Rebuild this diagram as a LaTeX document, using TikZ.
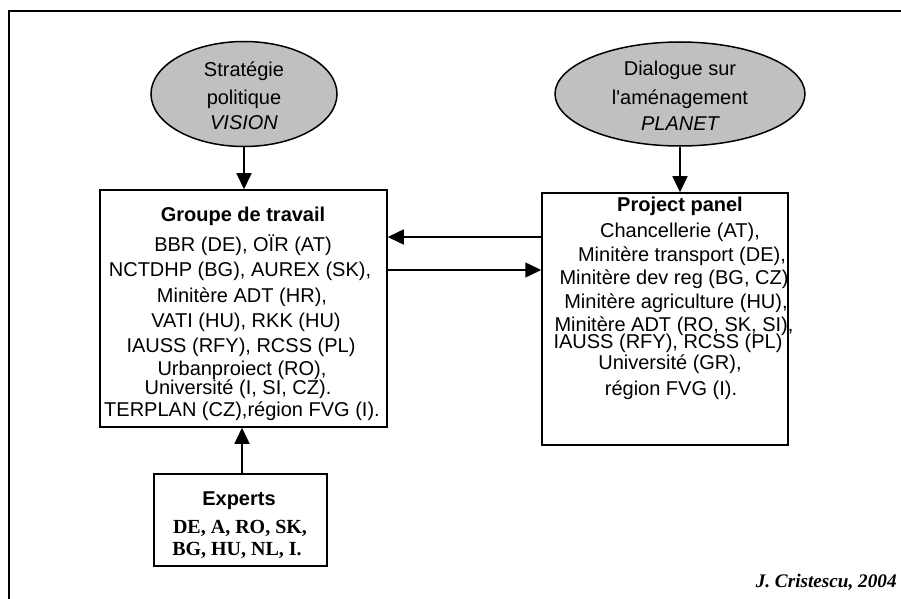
\documentclass[tikz,border=0pt]{standalone}
\usepackage{fontspec}
\setmainfont{Liberation Serif}
\setsansfont{Liberation Sans}
\usetikzlibrary{shapes.geometric,arrows.meta,fit}
\begin{document}
\begin{tikzpicture}[x=0.5pt,y=-0.5pt,
  font=\fontsize{10}{12}\selectfont,
  boxnode/.style={draw, line width=0.75pt, inner sep=0pt},
  bubble/.style={draw, ellipse, line width=0.75pt, fill=bubblegray, inner sep=0pt},
  txt/.style={font=\fontsize{10}{12}\selectfont\sffamily, inner sep=0pt, anchor=base},
  ttl/.style={txt, font=\fontsize{10}{12}\selectfont\sffamily\bfseries},
  serifb/.style={txt, font=\fontsize{10}{12}\selectfont\rmfamily\bfseries},
  arr/.style={line width=0.75pt, -{Triangle[length=8pt,width=7.5pt]}}
]
\definecolor{bubblegray}{RGB}{192,192,192}
\useasboundingbox (0,0) rectangle (901,599);

% outer frame
\coordinate (fa) at (9,599);
\coordinate (fb) at (9,11);
\coordinate (fc) at (901,11);
\draw[line width=1pt] (fa) -- (fb) -- (fc);

% ellipses
\node[bubble, minimum width=93pt, minimum height=52.5pt] (e1) at (244,94) {};
\node[bubble, minimum width=125pt, minimum height=52pt] (e2) at (680,94) {};
\node[txt] (e1a) at (244,77) {Stratégie};
\node[txt] (e1b) at (244,105) {politique};
\node[txt] (e1c) at (244,130) {\itshape VISION};
\node[txt] (e2a) at (680,76) {Dialogue sur};
\node[txt] (e2b) at (680,105) {l\textquotesingle aménagement};
\node[txt] (e2c) at (680,131) {\itshape PLANET};

% boxes
\node[boxnode, fit={(100,190) (387,427)}] (b1) {};
\node[boxnode, fit={(542,193) (788,445)}] (b2) {};
\node[boxnode, fit={(154,474) (327,566)}] (b3) {};

% box 1 text
\node[ttl] (g0) at (243,222) {Groupe de travail};
\node[txt] (g1) at (243,251) {BBR (DE), OÏR (AT)};
\node[txt] (g2) at (240,277) {NCTDHP (BG), AUREX (SK),};
\node[txt] (g3) at (242,303) {Minitère ADT (HR),};
\node[txt] (g4) at (246,328) {VATI (HU), RKK (HU)};
\node[txt] (g5) at (241,352) {IAUSS (RFY), RCSS (PL)};
\node[txt] (g6) at (242,375) {Urbanproiect (RO),};
\node[txt] (g7) at (238,394) {Université (I, SI, CZ).};
\node[txt] (g8) at (242,416) {TERPLAN (CZ),région FVG (I).};

% box 2 text
\node[ttl] (p0) at (680,212) {Project panel};
\node[txt] (p1) at (680,238) {Chancellerie (AT),};
\node[txt] (p2) at (682,262) {Minitère transport (DE),};
\node[txt] (p3) at (674,285) {Minitère dev reg (BG, CZ)};
\node[txt] (p4) at (676,308) {Minitère agriculture (HU),};
\node[txt] (p5) at (674,331) {Minitère ADT (RO, SK, SI),};
\node[txt] (p6) at (668,349) {IAUSS (RFY), RCSS (PL)};
\node[txt] (p7) at (670,370) {Université (GR),};
\node[txt] (p8) at (671,395) {région FVG (I).};

% experts text
\node[ttl] (x0) at (239,505) {Experts};
\node[serifb] (x1) at (240,533) {DE, A, RO, SK,};
\node[serifb] (x2) at (237,555) {BG, HU, NL, I.};

% credit
\node[txt, anchor=base east, font=\fontsize{9.6}{11}\selectfont\rmfamily\bfseries\itshape] (cr) at (897,587) {J. Cristescu, 2004};

% connectors
\draw[arr] (e1.south) -- (e1.south |- b1.north);
\draw[arr] (e2.south) -- (e2.south |- b2.north);
\draw[arr] (b2.west |- 0,237) -- (b1.east |- 0,237);
\draw[arr] (b1.east |- 0,270) -- (b2.west |- 0,270);
\draw[arr] (b3.north -| 242,0) -- (b1.south -| 242,0);
\end{tikzpicture}
\end{document}
